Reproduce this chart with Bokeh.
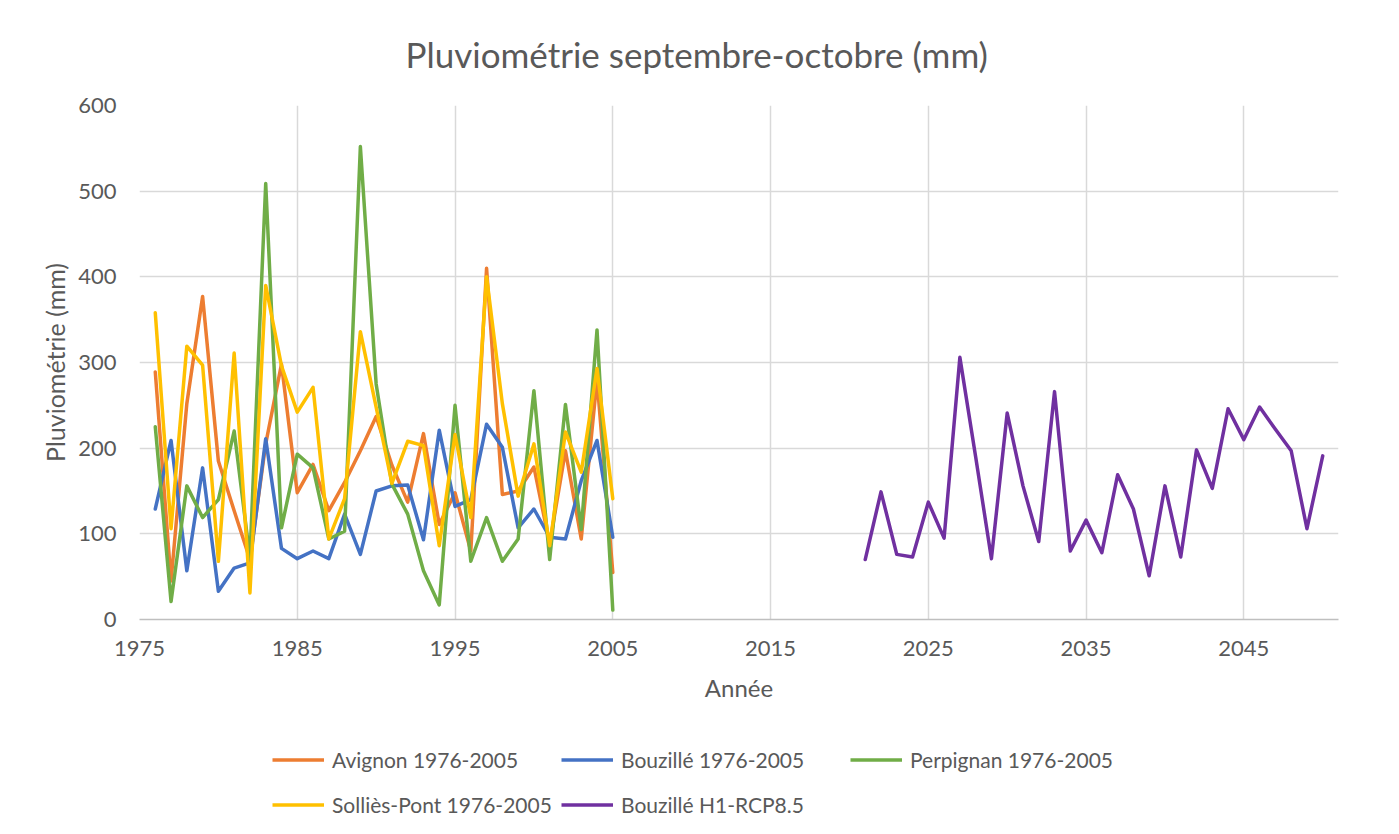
from bokeh.plotting import figure
from bokeh.layouts import column
from bokeh.models import Range1d, FixedTicker, Legend, LegendItem
from bokeh.embed import file_html
from bokeh.resources import INLINE

years_hist = list(range(1976, 2006))
years_proj = list(range(2021, 2051))

avignon = [289, 45, 252, 377, 185, 127, 70, 205, 298, 148,
           181, 127, 160, 197, 237, 180, 137, 217, 111, 148,
           80, 410, 146, 150, 178, 88, 197, 94, 280, 55]
bouzille = [129, 209, 57, 177, 33, 60, 66, 211, 83, 71,
            80, 71, 123, 76, 150, 156, 157, 93, 221, 132,
            140, 228, 201, 107, 129, 96, 94, 162, 209, 96]
perpignan = [225, 21, 156, 119, 140, 220, 72, 509, 107, 193,
             177, 94, 103, 552, 275, 158, 123, 57, 17, 250,
             68, 119, 68, 94, 267, 70, 251, 105, 338, 11]
sollies = [358, 106, 319, 297, 68, 311, 31, 390, 296, 242,
           271, 94, 141, 336, 248, 159, 208, 203, 86, 216,
           119, 400, 252, 144, 205, 86, 219, 172, 293, 141]
bouzille_rcp = [70, 149, 76, 73, 137, 95, 306, 190, 71, 241,
                156, 91, 266, 80, 116, 78, 169, 129, 51, 156,
                73, 198, 153, 246, 210, 248, 222, 197, 106, 191]

series_names = ["Avignon 1976-2005", "Bouzillé 1976-2005", "Perpignan 1976-2005",
                "Solliès-Pont 1976-2005", "Bouzillé H1-RCP8.5"]
series_colors = ["#ED7D31", "#4472C4", "#70AD47", "#FFC000", "#7030A0"]

x_ticks = [1975, 1985, 1995, 2005, 2015, 2025, 2035, 2045]
y_ticks = [0, 100, 200, 300, 400, 500, 600]

title_text = "Pluviométrie septembre-octobre (mm)"
x_label = "Année"
y_label = "Pluviométrie (mm)"

FONT = "Lato"
TXT = "#595959"
LW = 3.5

p = figure(width=1395, height=720, output_backend="svg", toolbar_location=None,
           x_range=Range1d(1975, 2051), y_range=Range1d(0, 600),
           min_border_left=139, min_border_right=57, min_border_top=105,
           min_border_bottom=101)
p.outline_line_color = None
p.background_fill_color = "white"
p.border_fill_color = "white"

p.title.text = title_text
p.title.align = "left"
p.title.offset = 266
p.title.standoff = 61
p.title.text_font = FONT
p.title.text_font_size = "35px"
p.title.text_font_style = "normal"
p.title.text_color = TXT

p.xaxis.ticker = FixedTicker(ticks=x_ticks)
p.yaxis.ticker = FixedTicker(ticks=y_ticks)
p.xgrid.ticker = FixedTicker(ticks=x_ticks)
p.ygrid.ticker = FixedTicker(ticks=y_ticks)
for g in (p.xgrid, p.ygrid):
    g.grid_line_color = "#d9d9d9"
    g.grid_line_width = 1.5

for ax in (p.xaxis, p.yaxis):
    ax.major_tick_line_color = None
    ax.minor_tick_line_color = None
    ax.major_tick_out = 0
    ax.major_tick_in = 0
    ax.major_label_text_font = FONT
    ax.major_label_text_font_size = "22px"
    ax.major_label_text_color = TXT
    ax.axis_label_text_font = FONT
    ax.axis_label_text_color = TXT
    ax.axis_label_text_font_style = "normal"

p.xaxis.axis_label_text_font_size = "24px"
p.yaxis.axis_label_text_font_size = "25px"
p.xaxis.axis_line_color = "#bfbfbf"
p.xaxis.axis_line_width = 1.5
p.yaxis.axis_line_color = None
p.xaxis.major_label_standoff = 21
p.yaxis.major_label_standoff = 23
p.xaxis.axis_label = x_label
p.yaxis.axis_label = y_label
p.xaxis.axis_label_standoff = 14
p.yaxis.axis_label_standoff = 5

data = [(years_hist, avignon), (years_hist, bouzille), (years_hist, perpignan),
        (years_hist, sollies), (years_proj, bouzille_rcp)]
for (xs, ys), c in zip(data, series_colors):
    p.line(xs, ys, line_color=c, line_width=LW, line_join="round", line_cap="round")

# legend strip below the chart (swatch renderers sit outside the visible range)
lg = figure(width=1395, height=110, output_backend="svg", toolbar_location=None,
            x_range=Range1d(0, 1), y_range=Range1d(0, 1),
            x_axis_type=None, y_axis_type=None,
            min_border_left=0, min_border_right=0, min_border_top=0, min_border_bottom=0)
lg.outline_line_color = None
lg.grid.visible = False
lg.background_fill_color = "white"
lg.border_fill_color = "white"
swatches = [lg.line([-5, -4], [-5, -4], line_color=c, line_width=LW) for c in series_colors]
items = [LegendItem(label=n, renderers=[r]) for n, r in zip(series_names, swatches)]
legend = Legend(items=items, location=(133, 6.5), orientation="horizontal", ncols=3,
                glyph_width=52, glyph_height=39, label_height=39, label_width=223,
                label_standoff=8, spacing=6, padding=0, margin=0,
                label_text_font=FONT, label_text_font_size="21px", label_text_color=TXT,
                background_fill_alpha=0, border_line_alpha=0)
lg.add_layout(legend, "center")

layout = column(p, lg, spacing=0)
open("out.html", "w").write(file_html(layout, INLINE))
